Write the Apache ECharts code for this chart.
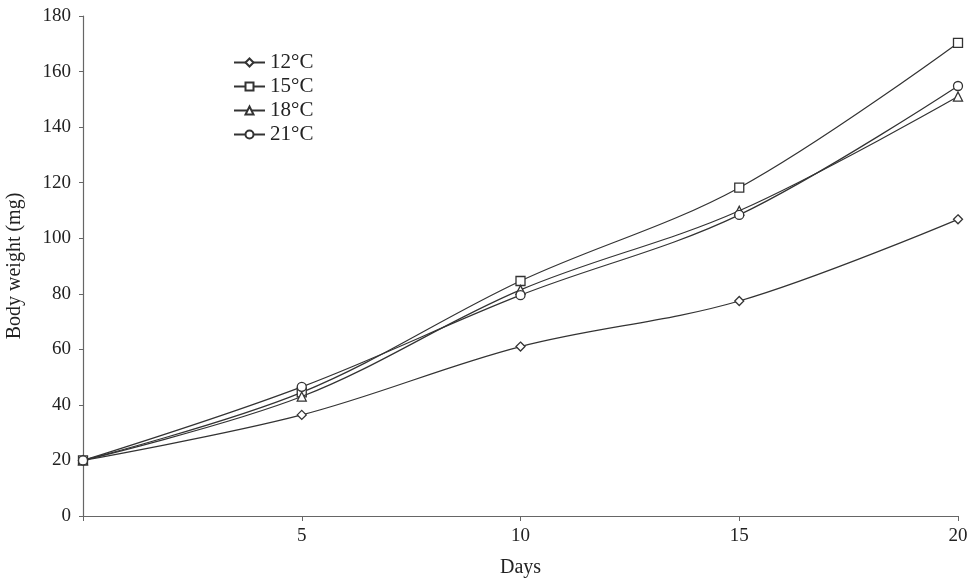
<!DOCTYPE html>
<html>
<head>
<meta charset="utf-8">
<script src="https://cdn.jsdelivr.net/npm/echarts@6/dist/echarts.min.js"></script>
<style>html,body{margin:0;padding:0;background:#fff}#c{width:976px;height:581px}</style>
</head>
<body>
<div id="c"></div>
<script>
const days = [0, 5, 10, 15, 20];
const seriesNames = ['12°C', '15°C', '18°C', '21°C'];
const w12 = [20, 36.4, 61, 77.4, 106.8];
const w15 = [20, 44.5, 84.6, 118.2, 170.3];
const w18 = [20, 43, 81.4, 109.9, 151];
const w21 = [20, 46.5, 79.5, 108.4, 154.8];
const yTicks = [0, 20, 40, 60, 80, 100, 120, 140, 160, 180];

const symbols = ['diamond', 'rect', 'triangle', 'circle'];
const sizes = [9, 9, 9, 9];
const values = [w12, w15, w18, w21];
const font = '"Liberation Serif", "DejaVu Serif", serif';
const ink = '#333';

const chart = echarts.init(document.getElementById('c'));
chart.setOption({
  animation: false,
  backgroundColor: '#fff',
  textStyle: { fontFamily: font },
  grid: { left: 83, right: 18, top: 16, bottom: 65, containLabel: false, outerBoundsMode: 'none' },
  legend: {
    orient: 'vertical',
    left: 228,
    top: 47,
    itemWidth: 31,
    itemHeight: 10,
    itemGap: 3,
    textStyle: { fontFamily: font, fontSize: 21, color: '#222' },
    data: seriesNames
  },
  xAxis: {
    type: 'value',
    min: 0, max: 20, interval: 5,
    name: 'Days',
    nameLocation: 'middle',
    nameGap: 42,
    nameTextStyle: { fontFamily: font, fontSize: 20, color: '#222' },
    axisLine: { lineStyle: { color: '#666', width: 1.2 } },
    axisTick: { show: true, length: 5, lineStyle: { color: '#666' } },
    axisLabel: {
      fontFamily: font, fontSize: 19, color: '#222', margin: 11,
      formatter: v => (v === 0 ? '' : String(v))
    },
    splitLine: { show: false }
  },
  yAxis: {
    type: 'value',
    min: yTicks[0], max: yTicks[yTicks.length - 1], interval: 20,
    name: 'Body weight (mg)',
    nameLocation: 'middle',
    nameGap: 58,
    nameTextStyle: { fontFamily: font, fontSize: 20, color: '#222' },
    axisLine: { show: true, lineStyle: { color: '#666', width: 1.2 } },
    axisTick: { show: true, length: 4, lineStyle: { color: '#666' } },
    axisLabel: { fontFamily: font, fontSize: 19, color: '#222', margin: 12 },
    splitLine: { show: false }
  },
  series: seriesNames.map((n, i) => ({
    name: n,
    type: 'line',
    smooth: 0.35,
    data: days.map((d, j) => [d, values[i][j]]),
    symbol: symbols[i],
    symbolSize: sizes[i],
    showAllSymbol: true,
    lineStyle: { color: ink, width: 1.2 },
    itemStyle: { color: '#fff', borderColor: ink, borderWidth: 1.3 },
    z: 2 + i
  }))
});
</script>
</body>
</html>
